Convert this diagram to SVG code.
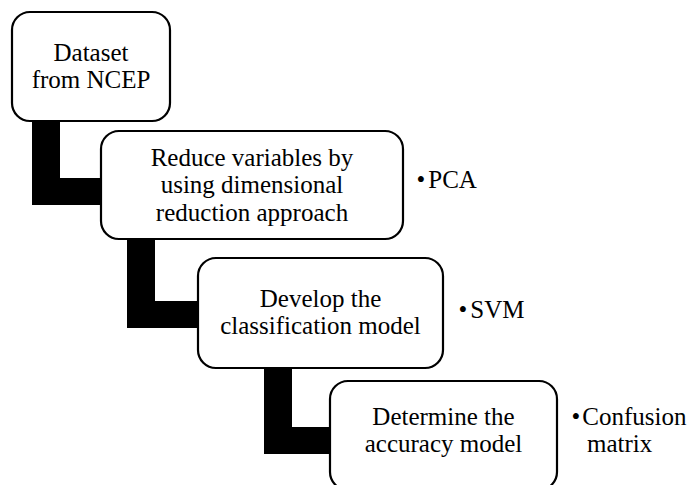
<svg xmlns="http://www.w3.org/2000/svg" width="699" height="485" viewBox="0 0 699 485">
<style>
.box{fill:#fff;stroke:#000;stroke-width:2.2}
.conn{fill:#000;stroke:none}
.t{font-family:"Liberation Serif","Times New Roman",serif;font-size:25px;fill:#000}
.c{text-anchor:middle}
</style>
<rect width="699" height="485" fill="#fff"/>
<g id="connectors">
<polygon class="conn" points="32,120 60,120 60,178 102,178 102,205 32,205"/>
<polygon class="conn" points="127,239 155,239 155,301 199,301 199,328 127,328"/>
<polygon class="conn" points="264,368 292,368 292,427 331,427 331,454 264,454"/>
</g>
<g id="node1">
<rect class="box" x="12" y="12" width="158" height="109" rx="18"/>
<text class="t c" x="91" y="60.5">Dataset</text>
<text class="t c" x="91" y="87.5">from NCEP</text>
</g>
<g id="node2">
<rect class="box" x="101" y="131" width="302" height="108" rx="18"/>
<text class="t c" x="252" y="165.5">Reduce variables by</text>
<text class="t c" x="252" y="193">using dimensional</text>
<text class="t c" x="252" y="220.5">reduction approach</text>
</g>
<g id="node3">
<rect class="box" x="198" y="258" width="245" height="110" rx="18"/>
<text class="t c" x="320.5" y="306.5">Develop the</text>
<text class="t c" x="320.5" y="333.5">classification model</text>
</g>
<g id="node4">
<rect class="box" x="330" y="381" width="227" height="109" rx="18"/>
<text class="t c" x="443.5" y="424.5">Determine the</text>
<text class="t c" x="443.5" y="451.5">accuracy model</text>
</g>
<g id="labels">
<text class="t" x="416.5" y="188">•<tspan dx="3">PCA</tspan></text>
<text class="t" x="458.5" y="318">•<tspan dx="3">SVM</tspan></text>
<text class="t" x="571.5" y="424.5">•<tspan dx="2">Confusion</tspan></text>
<text class="t" x="587" y="451.5">matrix</text>
</g>
</svg>
